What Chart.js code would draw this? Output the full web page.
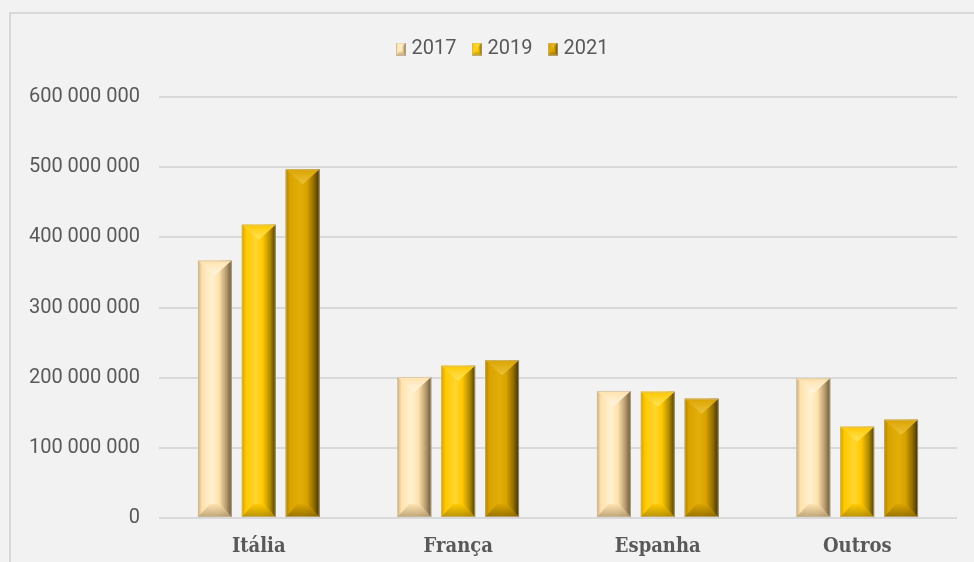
<!DOCTYPE html>
<html>
<head>
<meta charset="utf-8">
<script src="https://cdn.jsdelivr.net/npm/chart.js@4"></script>
<style>
  html, body { margin: 0; padding: 0; background: #F2F2F2; overflow: hidden; }
  #wrap { position: relative; width: 974px; height: 562px; }
  #frame { position: absolute; left: 9px; top: 12px; width: 1000px; height: 600px; border: 2px solid #D9D9D9; box-sizing: border-box; }
  canvas { position: absolute; left: 0; top: 0; }
</style>
</head>
<body>
<div id="wrap">
  <div id="frame"></div>
  <canvas id="c" width="974" height="562"></canvas>
</div>
<script>
// ---- data ----
const categories = ['Itália', 'França', 'Espanha', 'Outros'];
const seriesNames = ['2017', '2019', '2021'];
const values2017 = [367000000, 201000000, 181000000, 199000000];
const values2019 = [418000000, 217000000, 180000000, 130000000];
const values2021 = [497000000, 225000000, 170000000, 140000000];
const yTicks = [0, 100000000, 200000000, 300000000, 400000000, 500000000, 600000000];

// ---- styles ----
const palettes = [
  { base: '#FFE2AC', light: '#FFF1D2', left: '#CDB084', dark: '#6B5634', top: '#FFF6E2', bottom: '#B59A6E' },
  { base: '#FFC800', light: '#FFD52E', left: '#D0A000', dark: '#4F3C00', top: '#FFE45A', bottom: '#B08A00' },
  { base: '#DAA300', light: '#E2AE08', left: '#AD8000', dark: '#3F2F00', top: '#EDC23A', bottom: '#8E6A00' }
];

function fmt(v) { return String(v).replace(/\B(?=(\d{3})+(?!\d))/g, ' '); }

function paintBar(ctx, L, R, T, B, p) {
  const w = R - L;
  if (B - T < 1) return;
  const cx = (L + R) / 2;
  const bev = Math.min(w / 2, 15, (B - T) / 2);
  const g = ctx.createLinearGradient(L, 0, R, 0);
  g.addColorStop(0, p.left);
  g.addColorStop(0.12, p.base);
  g.addColorStop(0.42, p.light);
  g.addColorStop(0.62, p.base);
  g.addColorStop(0.84, p.bottom);
  g.addColorStop(1, p.dark);
  ctx.save();
  ctx.fillStyle = g;
  ctx.fillRect(L, T, w, B - T);
  // top facet
  const gt = ctx.createLinearGradient(0, T, 0, T + bev);
  gt.addColorStop(0, p.base);
  gt.addColorStop(1, p.top);
  ctx.fillStyle = gt;
  ctx.beginPath();
  ctx.moveTo(L, T); ctx.lineTo(R, T); ctx.lineTo(cx, T + bev); ctx.closePath();
  ctx.fill();
  // bottom facet
  const bb = Math.min(bev, 13);
  const gb = ctx.createLinearGradient(0, B - bb, 0, B);
  gb.addColorStop(0, p.base);
  gb.addColorStop(1, p.bottom);
  ctx.fillStyle = gb;
  ctx.globalAlpha = 0.85;
  ctx.beginPath();
  ctx.moveTo(L, B); ctx.lineTo(R, B); ctx.lineTo(R - bb * 0.9, B - bb); ctx.lineTo(L + bb * 0.9, B - bb); ctx.closePath();
  ctx.fill();
  ctx.globalAlpha = 1;
  ctx.strokeStyle = 'rgba(200,190,170,0.6)';
  ctx.lineWidth = 1;
  ctx.strokeRect(L + 0.5, T + 0.5, w - 1, B - T - 1);
  ctx.restore();
}

function legendIcon(p) {
  const cv = document.createElement('canvas');
  cv.width = 10; cv.height = 13;
  paintBar(cv.getContext('2d'), 0, 10, 0, 13, p);
  return cv;
}

const bevelPlugin = {
  id: 'bevel',
  afterDatasetDraw(chart, args) {
    const ctx = chart.ctx;
    const p = palettes[args.index];
    args.meta.data.forEach(el => {
      const { x, y, base, width } = el.getProps(['x', 'y', 'base', 'width'], true);
      paintBar(ctx, x - width / 2, x + width / 2, Math.min(y, base), Math.max(y, base), p);
    });
  }
};

const legendHeightPlugin = {
  id: 'legendHeight',
  beforeInit(chart) {
    const lg = chart.legend;
    if (lg) {
      const orig = lg.fit;
      lg.fit = function () {
        orig.call(this);
        this.height = 78;
        if (this.lineWidths && this.lineWidths.length) this.lineWidths[0] -= 52;
      };
    }
  }
};

const seriesValues = [values2017, values2019, values2021];

new Chart(document.getElementById('c'), {
  type: 'bar',
  data: {
    labels: categories,
    datasets: seriesNames.map((n, i) => ({
      label: n,
      data: seriesValues[i],
      backgroundColor: palettes[i].base,
      borderWidth: 0,
      categoryPercentage: 0.66,
      barPercentage: 0.77
    }))
  },
  options: {
    responsive: false,
    animation: false,
    layout: { padding: { top: 19, right: 17, bottom: 0, left: 0 } },
    plugins: {
      tooltip: { enabled: false },
      legend: {
        position: 'top',
        labels: {
          usePointStyle: true,
          boxWidth: 1,
          padding: 20,
          color: '#595959',
          font: { family: 'Roboto', size: 20 },
          generateLabels(chart) {
            return chart.data.datasets.map((d, i) => ({
              text: d.label,
              pointStyle: legendIcon(palettes[i]),
              fillStyle: palettes[i].base,
              strokeStyle: palettes[i].base,
              lineWidth: 0,
              fontColor: '#595959',
              hidden: false,
              datasetIndex: i
            }));
          }
        }
      }
    },
    scales: {
      x: {
        grid: { display: false, drawTicks: false },
        border: { display: false },
        ticks: {
          color: '#595959',
          padding: 17,
          font: { family: "'DejaVu Serif Condensed', 'DejaVu Serif'", size: 20, weight: 'bold' }
        },
        afterFit(s) { s.height = 44; }
      },
      y: {
        min: 0,
        max: 600000000,
        afterBuildTicks(s) { s.ticks = yTicks.map(v => ({ value: v })); },
        grid: { color: '#D9D9D9', lineWidth: 2, drawTicks: false },
        border: { display: false },
        ticks: {
          color: '#595959',
          padding: 19,
          font: { family: 'Roboto', size: 20 },
          callback: v => fmt(v)
        },
        afterFit(s) { s.width = 159; }
      }
    }
  },
  plugins: [legendHeightPlugin, bevelPlugin]
});
</script>
</body>
</html>
